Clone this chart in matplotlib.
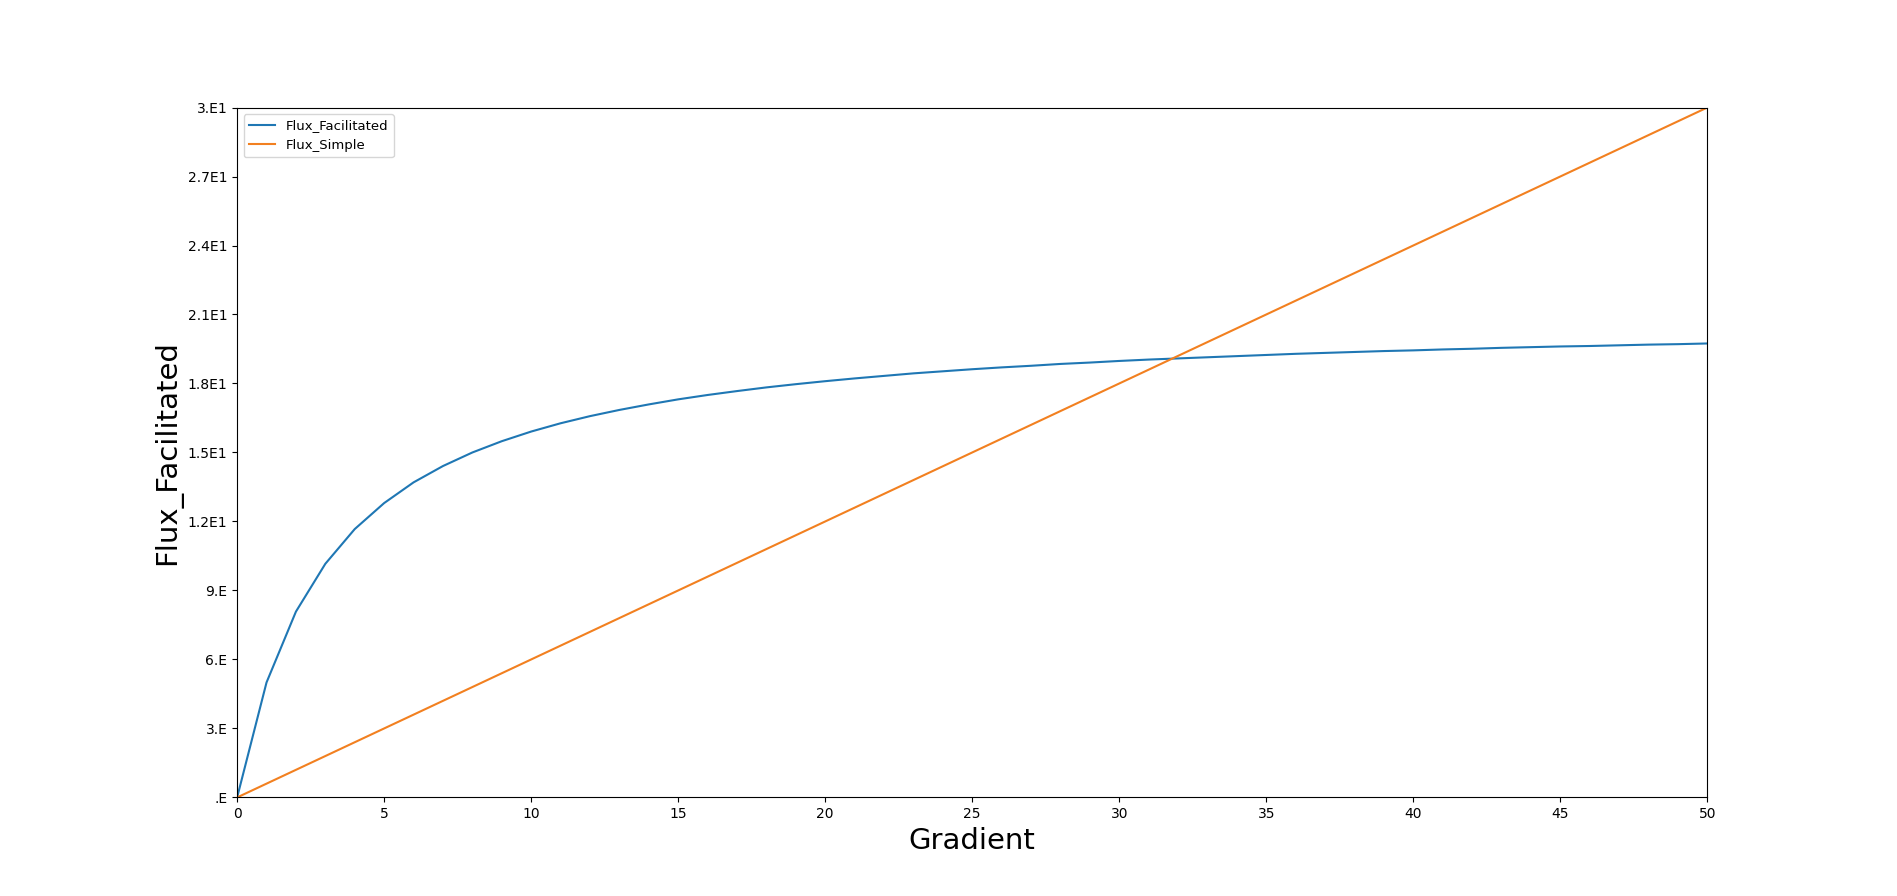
import matplotlib
matplotlib.use('Agg')
import matplotlib.pyplot as plt

# values
gradient = list(range(0, 51))
flux_facilitated = [
    0.00, 5.00, 8.08, 10.16, 11.67, 12.80, 13.70, 14.41, 15.00, 15.49,
    15.91, 16.27, 16.58, 16.85, 17.09, 17.31, 17.50, 17.67, 17.83, 17.97,
    18.10, 18.22, 18.33, 18.44, 18.53, 18.62, 18.70, 18.77, 18.85, 18.91,
    18.98, 19.04, 19.09, 19.14, 19.19, 19.24, 19.29, 19.33, 19.37, 19.41,
    19.44, 19.48, 19.51, 19.55, 19.58, 19.61, 19.63, 19.66, 19.69, 19.71,
    19.74,
]
flux_simple = [
    0.0, 0.6, 1.2, 1.8, 2.4, 3.0, 3.6, 4.2, 4.8, 5.4,
    6.0, 6.6, 7.2, 7.8, 8.4, 9.0, 9.6, 10.2, 10.8, 11.4,
    12.0, 12.6, 13.2, 13.8, 14.4, 15.0, 15.6, 16.2, 16.8, 17.4,
    18.0, 18.6, 19.2, 19.8, 20.4, 21.0, 21.6, 22.2, 22.8, 23.4,
    24.0, 24.6, 25.2, 25.8, 26.4, 27.0, 27.6, 28.2, 28.8, 29.4,
    30.0,
]
x_ticks = list(range(0, 51, 5))
y_ticks = [0, 3, 6, 9, 12, 15, 18, 21, 24, 27, 30]
y_tick_labels = ['.E', '3.E', '6.E', '9.E', '1.2E1', '1.5E1', '1.8E1',
                 '2.1E1', '2.4E1', '2.7E1', '3.E1']

fig, ax = plt.subplots(figsize=(18.97, 8.96), dpi=100)

ax.plot(gradient, flux_facilitated, color='#1f77b4', label='Flux_Facilitated')
ax.plot(gradient, flux_simple, color='#f28020', label='Flux_Simple')

ax.set_xlim(0, 50)
ax.set_ylim(0, 30)
ax.set_xticks(x_ticks)
ax.set_yticks(y_ticks)
ax.set_yticklabels(y_tick_labels)

ax.set_xlabel('Gradient', fontsize=21)
ax.set_ylabel('Flux_Facilitated', fontsize=21)
ax.legend(loc='upper left', fontsize=9.5)

plt.savefig('out.png', dpi=100)
